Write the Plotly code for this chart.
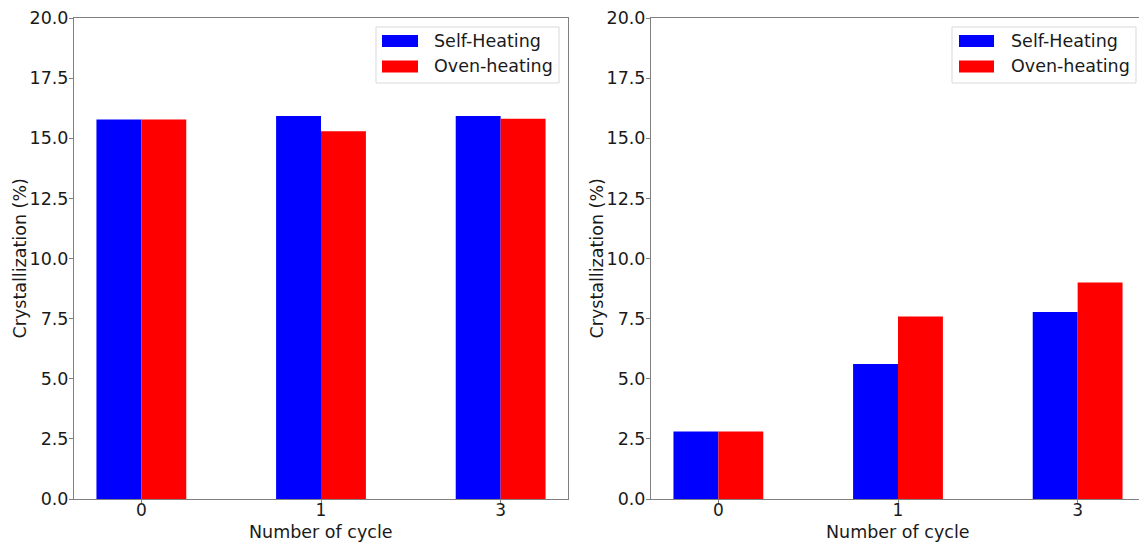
import plotly.graph_objects as go

# ---- data ----
cycle_labels = ["0", "1", "3"]
series_names = ["Self-Heating", "Oven-heating"]
left_self = [15.78, 15.93, 15.93]
left_oven = [15.78, 15.29, 15.81]
right_self = [2.81, 5.61, 7.78]
right_oven = [2.81, 7.59, 9.00]
y_ticks = [0.0, 2.5, 5.0, 7.5, 10.0, 12.5, 15.0, 17.5, 20.0]
x_title = "Number of cycle"
y_title = "Crystallization (%)"

colors = ["#0000ff", "#ff0000"]
W, H = 1139, 542
FONT = "DejaVu Sans"
FS = 17.5
FT = 17
TXT = "#1a1a1a"
pos = list(range(len(cycle_labels)))

fig = go.Figure()
for vals, name, col in [(left_self, series_names[0], colors[0]), (left_oven, series_names[1], colors[1])]:
    fig.add_trace(go.Bar(x=pos, y=vals, name=name, marker=dict(color=col, line=dict(width=0)),
                         xaxis="x", yaxis="y", showlegend=False, offsetgroup=name))
for vals, name, col in [(right_self, series_names[0], colors[0]), (right_oven, series_names[1], colors[1])]:
    fig.add_trace(go.Bar(x=pos, y=vals, name=name, marker=dict(color=col, line=dict(width=0)),
                         xaxis="x2", yaxis="y2", showlegend=False, offsetgroup=name))

T, B = 18, 43
px2f = lambda p: p / W
py2f = lambda p: 1 - (p - T) / (H - T - B)

spine = "#808080"
common_x = dict(tickvals=pos, ticktext=cycle_labels, showline=True, linecolor=spine, linewidth=1,
                ticks="outside", ticklen=4, tickcolor=spine, showgrid=False, zeroline=False,
                tickfont=dict(family=FONT, size=FT, color=TXT), ticklabelstandoff=-8,
                automargin=False)
common_y = dict(range=[0, 20], tickvals=y_ticks, ticktext=[f"{t:.1f}" for t in y_ticks],
                showline=True, linecolor=spine, linewidth=1, ticks="outside", ticklen=4,
                tickcolor=spine, showgrid=False, zeroline=False,
                tickfont=dict(family=FONT, size=FS, color=TXT), ticklabelstandoff=-3,
                automargin=False)

L1, R1, L2 = 74, 568, 651
fig.update_layout(
    width=W, height=H,
    margin=dict(l=0, r=0, t=T, b=B),
    paper_bgcolor="white", plot_bgcolor="white",
    barmode="group", bargap=0.5, bargroupgap=0,
    xaxis=dict(common_x, domain=[px2f(L1), px2f(R1)], range=[-0.375, 2.375], mirror=True, anchor="y"),
    yaxis=dict(common_y, domain=[0, 1], mirror=True, anchor="x"),
    xaxis2=dict(common_x, domain=[px2f(L2), 1.0], range=[-0.375, -0.375 + (W - L2) / ((R1 - L1) / 2.75)],
                mirror=True, anchor="y2"),
    yaxis2=dict(common_y, domain=[0, 1], mirror=False, anchor="x2"),
)

shapes = []
annotations = []
# axis titles
for xc, yc_x in [((L1 + R1) / 2, 19), ((L2 + L2 + (R1 - L1)) / 2, 596)]:
    annotations.append(dict(xref="paper", yref="paper", x=px2f(xc), y=py2f(531.5), text=x_title,
                            showarrow=False, xanchor="center", yanchor="middle",
                            font=dict(family=FONT, size=FS, color=TXT)))
    annotations.append(dict(xref="paper", yref="paper", x=px2f(yc_x), y=py2f(258.5), text=y_title,
                            showarrow=False, xanchor="center", yanchor="middle", textangle=-90,
                            font=dict(family=FONT, size=FS, color=TXT)))

# legends (matplotlib-style boxes)
for box_l, box_r, sw_l, sw_r, txt_x in [(376, 559, 382, 418, 432), (952, 1136, 959, 994, 1009)]:
    shapes.append(dict(type="rect", xref="paper", yref="paper",
                       x0=px2f(box_l), x1=px2f(box_r), y0=py2f(83), y1=py2f(27),
                       line=dict(color="#d9d9d9", width=1), fillcolor="rgba(255,255,255,0.8)", layer="above"))
    for i, (name, col) in enumerate(zip(series_names, colors)):
        cy = 41 + i * 25.5
        shapes.append(dict(type="rect", xref="paper", yref="paper",
                           x0=px2f(sw_l), x1=px2f(sw_r), y0=py2f(cy + 6), y1=py2f(cy - 6),
                           line=dict(width=0), fillcolor=col, layer="above"))
        annotations.append(dict(xref="paper", yref="paper", x=px2f(txt_x), y=py2f(cy),
                                text=name, showarrow=False, xanchor="left", yanchor="middle",
                                font=dict(family=FONT, size=FS, color=TXT)))
fig.update_layout(shapes=shapes, annotations=annotations)

fig.write_html("out.html", config={"displayModeBar": False},
               post_script="document.body.style.margin='0';document.body.style.overflow='hidden';")
